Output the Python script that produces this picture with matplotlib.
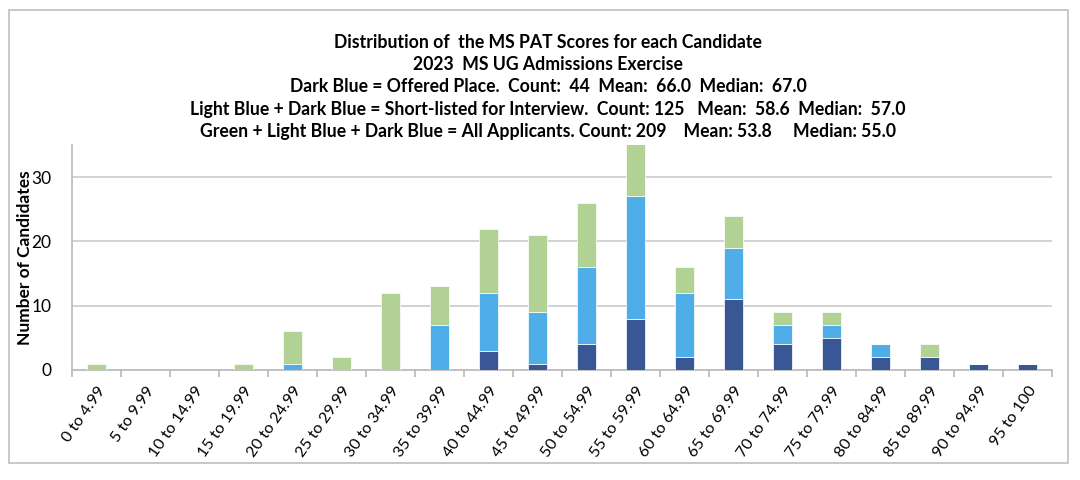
import matplotlib
matplotlib.use("Agg")
import matplotlib.pyplot as plt
from matplotlib.patches import Rectangle
import numpy as np

plt.rcParams['font.family'] = ['Lato', 'DejaVu Sans']

categories = ["0 to 4.99", "5 to 9.99", "10 to 14.99", "15 to 19.99", "20 to 24.99",
              "25 to 29.99", "30 to 34.99", "35 to 39.99", "40 to 44.99", "45 to 49.99",
              "50 to 54.99", "55 to 59.99", "60 to 64.99", "65 to 69.99", "70 to 74.99",
              "75 to 79.99", "80 to 84.99", "85 to 89.99", "90 to 94.99", "95 to 100"]
offered = [0, 0, 0, 0, 0, 0, 0, 0, 3, 1, 4, 8, 2, 11, 4, 5, 2, 2, 1, 1]
shortlisted_only = [0, 0, 0, 0, 1, 0, 0, 7, 9, 8, 12, 19, 10, 8, 3, 2, 2, 0, 0, 0]
other_applicants = [1, 0, 0, 1, 5, 2, 12, 6, 10, 12, 10, 10, 4, 5, 2, 2, 0, 2, 0, 0]

title_lines = [
    "Distribution of  the MS PAT Scores for each Candidate",
    "2023  MS UG Admissions Exercise",
    "Dark Blue = Offered Place.  Count:  44  Mean:  66.0  Median:  67.0",
    "Light Blue + Dark Blue = Short-listed for Interview.  Count: 125   Mean:  58.6  Median:  57.0",
    "Green + Light Blue + Dark Blue = All Applicants. Count: 209    Mean: 53.8     Median: 55.0",
]

c_dark = "#3a5795"
c_light = "#4fade8"
c_green = "#b2d195"

fig = plt.figure(figsize=(10.8, 4.8), dpi=100)
fig.patches.append(Rectangle((9 / 1080, 1 - 463 / 480), (1068 - 9) / 1080, (463 - 10) / 480,
                             transform=fig.transFigure, fill=False, edgecolor="#c4c4c4",
                             linewidth=1.3))

ax = fig.add_axes([72 / 1080, 1 - 370 / 480, (1052 - 72) / 1080, (370 - 145) / 480])
x = np.arange(len(categories))
off = np.array(offered)
sl = np.array(shortlisted_only)
ot = np.array(other_applicants)
w = 0.40
ax.bar(x, off, w, color=c_dark, edgecolor="white", linewidth=0.5, zorder=3)
ax.bar(x, sl, w, bottom=off, color=c_light, edgecolor="white", linewidth=0.5, zorder=3)
ax.bar(x, ot, w, bottom=off + sl, color=c_green, edgecolor="white", linewidth=0.5, zorder=3)

ax.set_xlim(-0.5, len(categories) - 0.5)
ax.set_ylim(0, 35)
ax.set_yticks([0, 10, 20, 30])
ax.yaxis.grid(True, color="#cfcfcf", linewidth=1.3, zorder=0)
ax.set_axisbelow(True)
for s in ["top", "right"]:
    ax.spines[s].set_visible(False)
for s in ["left", "bottom"]:
    ax.spines[s].set_color("#bdbdbd")
    ax.spines[s].set_linewidth(1.3)
ax.tick_params(axis="y", length=0, labelsize=12.5, pad=15)

ax.set_xticks(np.arange(len(categories) + 1) - 0.5, minor=False)
ax.set_xticklabels([])
ax.tick_params(axis="x", which="major", length=5, color="#bdbdbd", width=1.3, direction="out")
ax.set_xticks(x, minor=True)
ax.set_xticklabels(categories, minor=True, rotation=55, ha="right", va="top",
                   rotation_mode="anchor", fontsize=11.5)
ax.tick_params(axis="x", which="minor", length=0, pad=10)

ax.set_ylabel("Number of Candidates", fontsize=12.5, fontweight="bold", va="center")
ax.yaxis.set_label_coords((25 - 72) / 980, 0.5)

ys = [42, 64, 86, 109, 131]
for line, yp in zip(title_lines, ys):
    fig.text(548 / 1080, 1 - yp / 480, line, ha="center", va="center",
             fontsize=12.7, fontweight="bold")

fig.savefig("out.png", dpi=100)
